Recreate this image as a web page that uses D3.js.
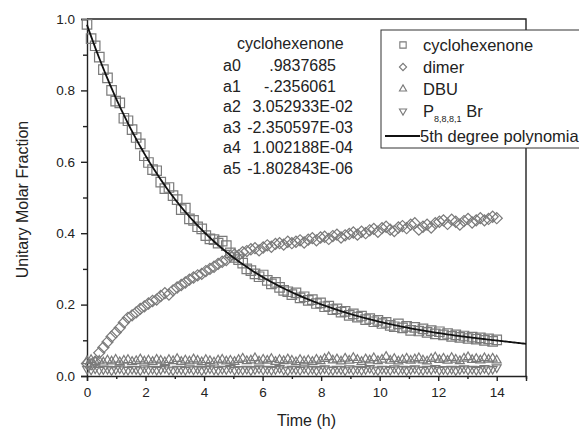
<!DOCTYPE html>
<html>
<head>
<meta charset="utf-8">
<script src="https://cdn.jsdelivr.net/npm/d3@7/dist/d3.min.js"></script>
<style>
  body { margin: 0; background: #fff; }
  svg text { font-family: "Liberation Sans", Arial, sans-serif; fill: #222; }
</style>
</head>
<body>
<script>
// sample times (h)
var times = [0, 0.14, 0.28, 0.42, 0.56, 0.70, 0.84, 0.98, 1.12, 1.26,
  1.40, 1.54, 1.68, 1.82, 1.96, 2.10, 2.24, 2.38, 2.52, 2.66,
  2.80, 2.94, 3.08, 3.22, 3.36, 3.50, 3.64, 3.78, 3.92, 4.06,
  4.20, 4.34, 4.48, 4.62, 4.76, 4.90, 5.04, 5.18, 5.32, 5.46,
  5.60, 5.74, 5.88, 6.02, 6.16, 6.30, 6.44, 6.58, 6.72, 6.86,
  7.00, 7.14, 7.28, 7.42, 7.56, 7.70, 7.84, 7.98, 8.12, 8.26,
  8.40, 8.54, 8.68, 8.82, 8.96, 9.10, 9.24, 9.38, 9.52, 9.66,
  9.80, 9.94, 10.08, 10.22, 10.36, 10.50, 10.64, 10.78, 10.92, 11.06,
  11.20, 11.34, 11.48, 11.62, 11.76, 11.90, 12.04, 12.18, 12.32, 12.46,
  12.60, 12.74, 12.88, 13.02, 13.16, 13.30, 13.44, 13.58, 13.72, 13.86,
  14.00];

var cyclohexenone = [0.985, 0.945, 0.925, 0.893, 0.858, 0.835, 0.800, 0.770, 0.765, 0.722,
  0.715, 0.690, 0.668, 0.650, 0.617, 0.598, 0.578, 0.575, 0.543, 0.525,
  0.528, 0.505, 0.494, 0.466, 0.470, 0.440, 0.436, 0.418, 0.412, 0.393,
  0.384, 0.382, 0.372, 0.378, 0.365, 0.345, 0.332, 0.326, 0.316, 0.300,
  0.295, 0.286, 0.278, 0.283, 0.268, 0.258, 0.262, 0.248, 0.240, 0.236,
  0.228, 0.233, 0.219, 0.222, 0.212, 0.214, 0.203, 0.205, 0.194, 0.196,
  0.186, 0.188, 0.179, 0.181, 0.170, 0.174, 0.165, 0.168, 0.158, 0.161,
  0.152, 0.156, 0.147, 0.150, 0.142, 0.138, 0.146, 0.135, 0.139, 0.128,
  0.136, 0.126, 0.132, 0.122, 0.127, 0.118, 0.124, 0.115, 0.119, 0.111,
  0.115, 0.108, 0.112, 0.105, 0.109, 0.103, 0.107, 0.100, 0.104, 0.097,
  0.101];

var dimer = [0.035, 0.033, 0.040, 0.065, 0.080, 0.095, 0.110, 0.122, 0.135, 0.150,
  0.163, 0.170, 0.178, 0.188, 0.195, 0.203, 0.210, 0.214, 0.224, 0.232,
  0.228, 0.240, 0.248, 0.255, 0.262, 0.270, 0.276, 0.282, 0.286, 0.294,
  0.300, 0.306, 0.314, 0.320, 0.325, 0.336, 0.340, 0.338, 0.347, 0.350,
  0.355, 0.358, 0.352, 0.360, 0.366, 0.362, 0.370, 0.372, 0.368, 0.376,
  0.372, 0.376, 0.380, 0.374, 0.382, 0.386, 0.380, 0.388, 0.390, 0.384,
  0.392, 0.396, 0.388, 0.394, 0.398, 0.402, 0.396, 0.404, 0.400, 0.408,
  0.412, 0.404, 0.414, 0.418, 0.410, 0.406, 0.416, 0.420, 0.414, 0.424,
  0.428, 0.410, 0.418, 0.424, 0.416, 0.428, 0.432, 0.436, 0.426, 0.438,
  0.432, 0.424, 0.434, 0.440, 0.430, 0.436, 0.442, 0.436, 0.440, 0.446,
  0.442];

var dbu = [0.042, 0.045, 0.040, 0.043, 0.038, 0.044, 0.041, 0.046, 0.039, 0.043,
  0.045, 0.040, 0.042, 0.047, 0.041, 0.044, 0.040, 0.046, 0.043, 0.039,
  0.045, 0.042, 0.048, 0.040, 0.044, 0.041, 0.047, 0.043, 0.039, 0.045,
  0.042, 0.038, 0.044, 0.046, 0.041, 0.043, 0.040, 0.045, 0.049, 0.042,
  0.044, 0.050, 0.041, 0.046, 0.043, 0.048, 0.040, 0.045, 0.042, 0.047,
  0.043, 0.039, 0.045, 0.041, 0.044, 0.040, 0.046, 0.042, 0.048, 0.053,
  0.044, 0.047, 0.041, 0.049, 0.043, 0.051, 0.045, 0.040, 0.047, 0.044,
  0.050, 0.042, 0.046, 0.054, 0.043, 0.048, 0.041, 0.045, 0.049, 0.043,
  0.047, 0.050, 0.044, 0.041, 0.048, 0.052, 0.045, 0.049, 0.043, 0.051,
  0.046, 0.042, 0.049, 0.053, 0.045, 0.048, 0.044, 0.050, 0.046, 0.049,
  0.044];

var pBr = [0.020, 0.018, 0.021, 0.017, 0.019, 0.020, 0.016, 0.019, 0.021, 0.018,
  0.017, 0.020, 0.019, 0.016, 0.021, 0.018, 0.020, 0.017, 0.019, 0.022,
  0.018, 0.016, 0.020, 0.019, 0.017, 0.021, 0.018, 0.020, 0.016, 0.019,
  0.021, 0.018, 0.017, 0.020, 0.019, 0.022, 0.017, 0.019, 0.018, 0.020,
  0.016, 0.019, 0.021, 0.018, 0.020, 0.017, 0.019, 0.022, 0.018, 0.016,
  0.020, 0.019, 0.017, 0.021, 0.018, 0.020, 0.016, 0.019, 0.021, 0.018,
  0.017, 0.020, 0.019, 0.016, 0.021, 0.018, 0.020, 0.017, 0.019, 0.022,
  0.018, 0.016, 0.020, 0.019, 0.017, 0.021, 0.018, 0.020, 0.016, 0.019,
  0.021, 0.018, 0.017, 0.020, 0.019, 0.022, 0.017, 0.019, 0.018, 0.020,
  0.016, 0.019, 0.021, 0.018, 0.020, 0.017, 0.019, 0.022, 0.018, 0.020,
  0.024];

// 5th degree polynomial fit for cyclohexenone (from the chart annotation)
var coefNames = ["a0", "a1", "a2", "a3", "a4", "a5"];
var coefLabels = [".9837685", "-.2356061", "3.052933E-02", "-2.350597E-03", "1.002188E-04", "-1.802843E-06"];
var coefs = [0.9837685, -0.2356061, 3.052933E-02, -2.350597E-03, 1.002188E-04, -1.802843E-06];

var xTicks = [0, 2, 4, 6, 8, 10, 12, 14],
    xMinor = [1, 3, 5, 7, 9, 11, 13, 15],
    yTicks = [0, 0.2, 0.4, 0.6, 0.8, 1.0],
    yMinor = [0.1, 0.3, 0.5, 0.7, 0.9];

var W = 579, H = 429,
    margin = {top: 19, right: 53, bottom: 53, left: 87},
    gray = "#7a7a7a";

var x = d3.scaleLinear().domain([0, 15]).range([margin.left, W - margin.right]);
var y = d3.scaleLinear().domain([0, 1]).range([H - margin.bottom, margin.top]);

var svg = d3.select("body").append("svg")
    .attr("width", W)
    .attr("height", H);

// axes
var gx = svg.append("g").attr("transform", "translate(0," + y(0) + ")");
gx.call(d3.axisBottom(x).tickValues(xTicks).tickSize(5).tickPadding(6).tickFormat(d3.format("d")));
gx.append("g").call(d3.axisBottom(x).tickValues(xMinor).tickSize(3).tickFormat(""))
  .select(".domain").remove();

var gy = svg.append("g").attr("transform", "translate(" + x(0) + ",0)");
gy.call(d3.axisLeft(y).tickValues(yTicks).tickSize(6).tickPadding(6).tickFormat(d3.format(".1f")));
gy.append("g").call(d3.axisLeft(y).tickValues(yMinor).tickSize(4).tickFormat(""))
  .select(".domain").remove();

svg.selectAll(".domain, .tick line").attr("stroke", "#222").attr("stroke-width", 1.4);
svg.selectAll(".tick text").style("font-size", "13.5px");

// top / right frame
svg.append("path")
    .attr("d", "M" + x(0) + "," + y(1) + "H" + x(15) + "V" + y(0))
    .attr("fill", "none").attr("stroke", "#222").attr("stroke-width", 1.4);

// axis titles
svg.append("text")
    .attr("transform", "translate(22," + ((y(0) + y(1)) / 2 + 2) + ") rotate(-90)")
    .attr("text-anchor", "middle")
    .attr("dy", "0.35em")
    .style("font-size", "16px")
    .text("Unitary Molar Fraction");

svg.append("text")
    .attr("x", (x(0) + x(15)) / 2)
    .attr("y", 426)
    .attr("text-anchor", "middle")
    .style("font-size", "16px")
    .text("Time (h)");

// markers
var sq = d3.symbol().type(d3.symbolSquare),
    tri = d3.symbol().type(d3.symbolTriangle);

function drawSeries(vals, path, rot) {
    svg.append("g").selectAll("path")
        .data(vals)
        .enter().append("path")
        .attr("d", path)
        .attr("transform", function(d, i) {
            return "translate(" + x(times[i]) + "," + y(d) + ") rotate(" + rot + ")";
        })
        .attr("fill", "none")
        .attr("stroke", gray)
        .attr("stroke-width", 1.2);
}

drawSeries(pBr, tri.size(34)(), 180);
drawSeries(dbu, tri.size(34)(), 0);
drawSeries(dimer, sq.size(62)(), 45);
drawSeries(cyclohexenone, sq.size(90)(), 0);

// fitted curve
function poly(t) {
    var s = 0;
    for (var k = coefs.length - 1; k >= 0; k--) s = s * t + coefs[k];
    return s;
}
var line = d3.line()
    .x(function(t) { return x(t); })
    .y(function(t) { return y(poly(t)); });

svg.append("path")
    .datum(d3.range(0, 15.001, 0.05))
    .attr("d", line)
    .attr("fill", "none")
    .attr("stroke", "#111")
    .attr("stroke-width", 1.8);

// coefficient block
var block = svg.append("g").style("font-size", "16px");
block.append("text").attr("x", 237).attr("y", 49).text("cyclohexenone");
var rowY = [71, 92, 112, 133, 153, 174],
    valEnd = [336, 336, 353, 353, 353, 353];
coefNames.forEach(function(n, i) {
    block.append("text").attr("x", 223).attr("y", rowY[i]).text(n);
    block.append("text").attr("x", valEnd[i]).attr("y", rowY[i])
        .attr("text-anchor", "end").text(coefLabels[i]);
});

// legend
var lg = svg.append("g");
lg.append("rect")
    .attr("x", 381).attr("y", 30).attr("width", 230).attr("height", 118)
    .attr("fill", "#fff").attr("stroke", "#333").attr("stroke-width", 1);

var legendNames = ["cyclohexenone", "dimer", "DBU"],
    legendY = [45, 67, 89, 111, 136],
    legendSym = [sq.size(40)(), sq.size(26)(), tri.size(22)(), tri.size(22)()],
    legendRot = [0, 45, 0, 180];

legendSym.forEach(function(s, i) {
    lg.append("path")
        .attr("d", s)
        .attr("transform", "translate(403," + legendY[i] + ") rotate(" + legendRot[i] + ")")
        .attr("fill", "none").attr("stroke", gray).attr("stroke-width", 1.1);
});
legendNames.forEach(function(n, i) {
    lg.append("text").attr("x", 423).attr("y", legendY[i]).attr("dy", "0.35em")
        .style("font-size", "16.5px").text(n);
});
var pt = lg.append("text").attr("x", 423).attr("y", legendY[3]).attr("dy", "0.35em")
    .style("font-size", "16.5px");
pt.append("tspan").text("P");
pt.append("tspan").attr("dy", "5").style("font-size", "9px").text("8,8,8,1");
pt.append("tspan").attr("dy", "-5").text(" Br");

lg.append("line")
    .attr("x1", 385).attr("x2", 420).attr("y1", legendY[4]).attr("y2", legendY[4])
    .attr("stroke", "#111").attr("stroke-width", 1.8);
lg.append("text").attr("x", 420).attr("y", legendY[4]).attr("dy", "0.35em")
    .style("font-size", "16.5px").text("5th degree polynomial");
</script>
</body>
</html>
